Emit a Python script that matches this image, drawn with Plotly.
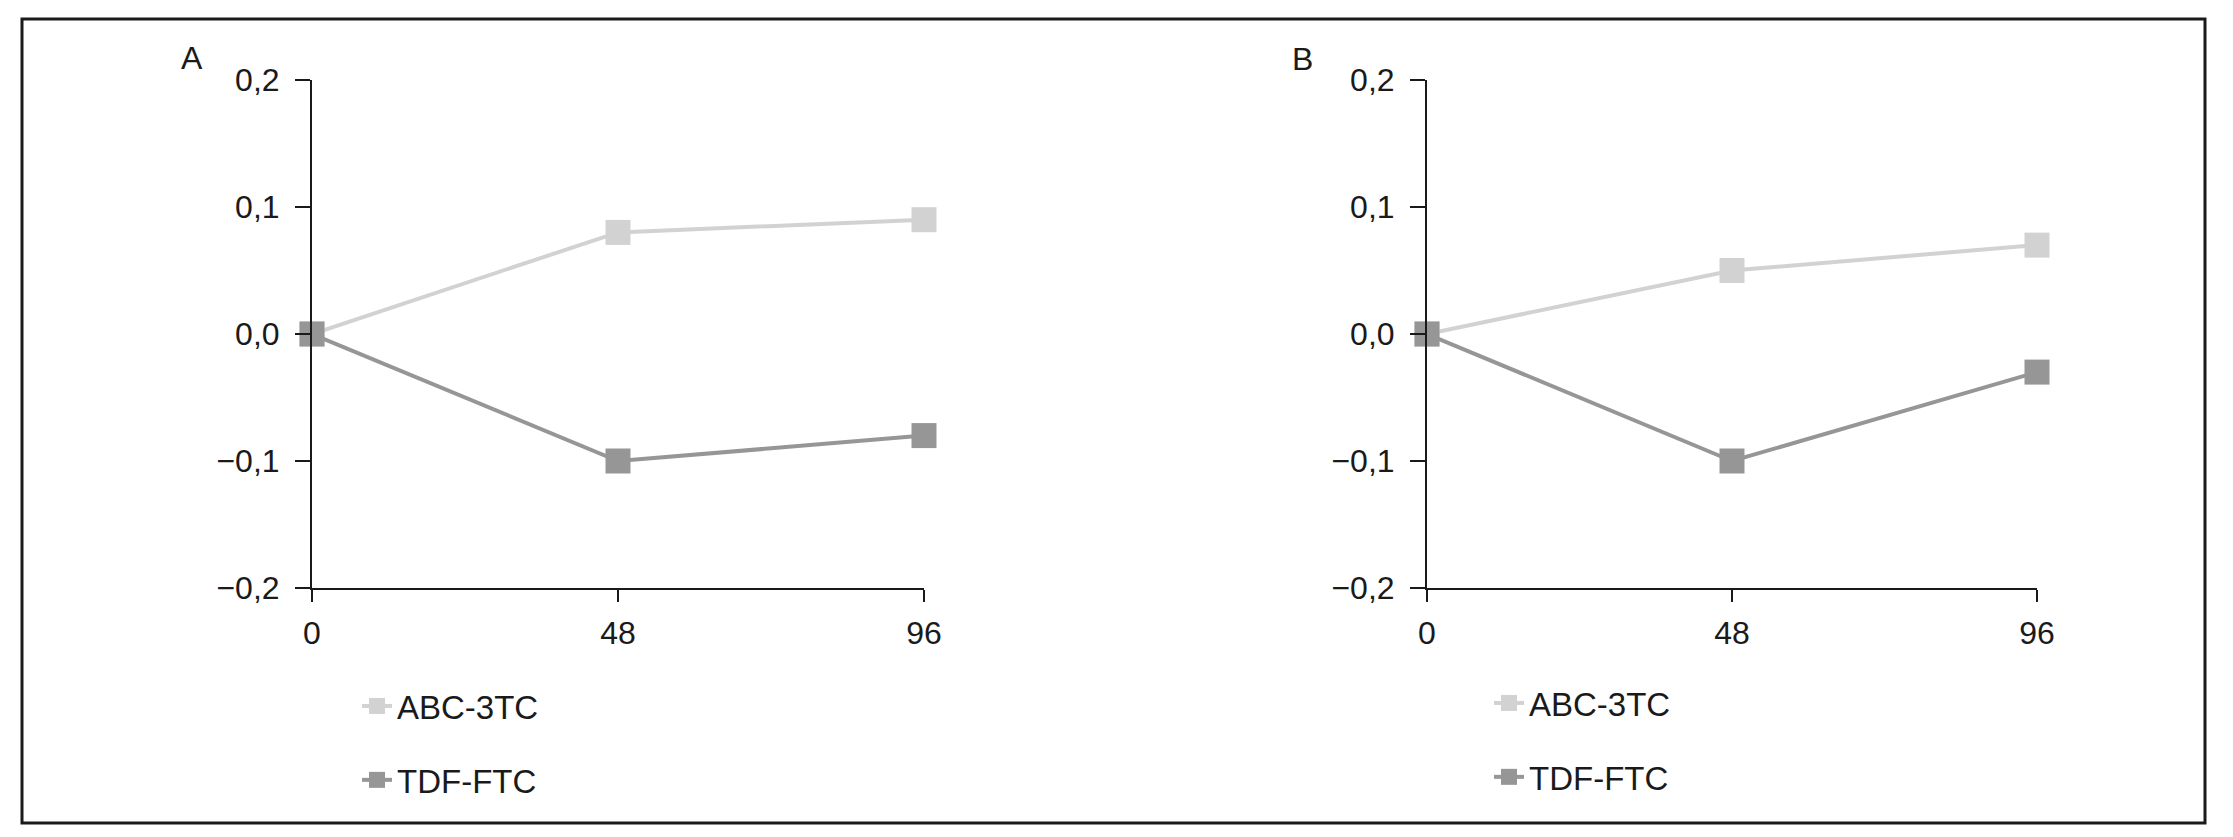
import plotly.graph_objects as go

weeks = [0, 48, 96]
abc_a = [0.0, 0.08, 0.09]
tdf_a = [0.0, -0.10, -0.08]
abc_b = [0.0, 0.05, 0.07]
tdf_b = [0.0, -0.10, -0.03]
series_names = ["ABC-3TC", "TDF-FTC"]
panel_labels = ["A", "B"]
y_tickvals = [-0.2, -0.1, 0.0, 0.1, 0.2]
y_ticktext = ["\u22120,2", "\u22120,1", "0,0", "0,1", "0,2"]
x_ticktext = ["0", "48", "96"]

W, H = 2233, 837
LIGHT = "#d2d2d2"
DARK = "#969696"
INK = "#1a1a1a"
FONT = "Liberation Sans, Arial, sans-serif"

def px_x(p):
    return p / W

def px_y(p):
    return 1 - p / H

fig = go.Figure()

panels = [
    ("x", "y", abc_a, tdf_a, "legend"),
    ("x2", "y2", abc_b, tdf_b, "legend2"),
]
for xa, ya, abc, tdf, lg in panels:
    for name, vals, col in [(series_names[0], abc, LIGHT), (series_names[1], tdf, DARK)]:
        fig.add_trace(go.Scatter(
            x=weeks, y=vals, name=name, xaxis=xa, yaxis=ya,
            mode="lines+markers",
            line=dict(color=col, width=4),
            marker=dict(symbol="square", size=25, color=col),
            cliponaxis=False, legend=lg, legendgroup=name + lg,
        ))

axis_common = dict(
    showline=True, linewidth=2, linecolor=INK, showgrid=False, zeroline=False,
    ticks="outside", tickwidth=2, tickcolor=INK, automargin=False,
    tickfont=dict(family=FONT, size=32, color=INK),
)
ydom = [px_y(588), px_y(80)]
xdoms = [[px_x(312), px_x(924)], [px_x(1427), px_x(2037)]]

fig.update_layout(
    width=W, height=H, autosize=False,
    margin=dict(l=0, r=0, t=0, b=0, pad=0, autoexpand=False),
    paper_bgcolor="white", plot_bgcolor="white",
    font=dict(family=FONT, size=32, color=INK),
    xaxis=dict(domain=xdoms[0], range=[0, 96], tickvals=weeks, ticktext=x_ticktext,
               ticklen=12, anchor="y", ticklabelstandoff=4, **axis_common),
    yaxis=dict(domain=ydom, range=[-0.2, 0.2], tickvals=y_tickvals, ticktext=y_ticktext,
               ticklen=15, anchor="x", ticklabelstandoff=9, **axis_common),
    xaxis2=dict(domain=xdoms[1], range=[0, 96], tickvals=weeks, ticktext=x_ticktext,
                ticklen=12, anchor="y2", ticklabelstandoff=4, **axis_common),
    yaxis2=dict(domain=ydom, range=[-0.2, 0.2], tickvals=y_tickvals, ticktext=y_ticktext,
                ticklen=15, anchor="x2", ticklabelstandoff=9, **axis_common),
    legend=dict(x=px_x(357), y=px_y(678), xanchor="left", yanchor="top",
                font=dict(family=FONT, size=33, color=INK), tracegroupgap=28,
                bgcolor="rgba(0,0,0,0)", itemsizing="trace"),
    legend2=dict(x=px_x(1489), y=px_y(675), xanchor="left", yanchor="top",
                 font=dict(family=FONT, size=33, color=INK), tracegroupgap=28,
                 bgcolor="rgba(0,0,0,0)", itemsizing="trace"),
    showlegend=True,
    annotations=[
        dict(text=panel_labels[0], x=px_x(192), y=px_y(58), xref="paper", yref="paper",
             xanchor="center", yanchor="middle",
             showarrow=False, font=dict(family=FONT, size=32, color=INK)),
        dict(text=panel_labels[1], x=px_x(1302), y=px_y(59), xref="paper", yref="paper",
             xanchor="center", yanchor="middle",
             showarrow=False, font=dict(family=FONT, size=32, color=INK)),
    ],
    shapes=[dict(type="rect", xref="paper", yref="paper",
                 x0=px_x(22), x1=px_x(2205), y0=px_y(823), y1=px_y(19),
                 line=dict(color=INK, width=3), fillcolor="rgba(0,0,0,0)")],
)

fig.write_html(
    "out.html",
    config={"displayModeBar": False},
    post_script="document.body.style.margin='0';document.body.style.overflow='hidden';",
)
